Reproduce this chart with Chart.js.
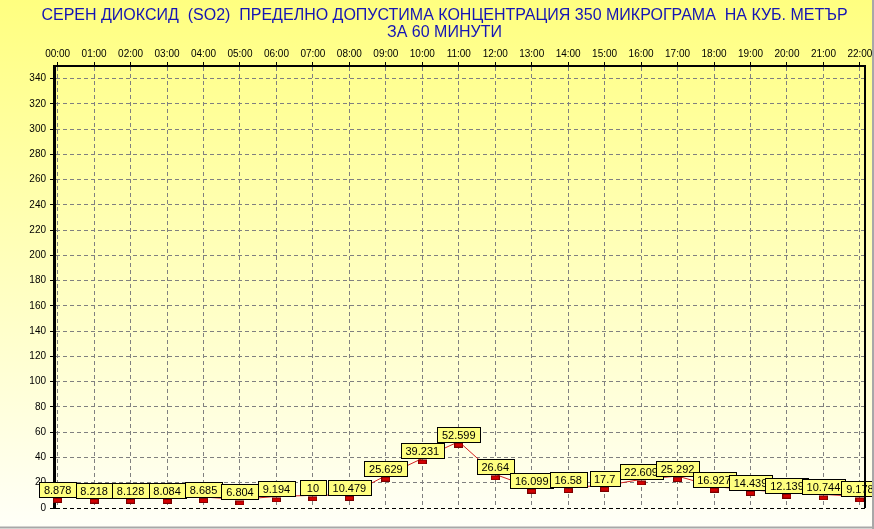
<!DOCTYPE html>
<html>
<head>
<meta charset="utf-8">
<script src="https://cdn.jsdelivr.net/npm/chart.js@4"></script>
<style>
  html, body { margin: 0; padding: 0; overflow: hidden; background: #fff; }
  #wrap { width: 874px; height: 529px; position: relative; }
</style>
</head>
<body>
<div id="wrap"><canvas id="so2Chart"></canvas></div>
<script>
const hours = ["00:00", "01:00", "02:00", "03:00", "04:00", "05:00", "06:00", "07:00", "08:00", "09:00", "10:00", "11:00",
    "12:00", "13:00", "14:00", "15:00", "16:00", "17:00", "18:00", "19:00", "20:00", "21:00", "22:00"];
const so2 = [8.878, 8.218, 8.128, 8.084, 8.685, 6.804, 9.194, 10, 10.479, 25.629, 39.231, 52.599,
    26.64, 16.099, 16.58, 17.7, 22.609, 25.292, 16.927, 14.439, 12.139, 10.744, 9.178];
const yTickValues = [0, 20, 40, 60, 80, 100, 120, 140, 160, 180, 200, 220, 240, 260, 280, 300, 320, 340];
const titleLines = [
    "СЕРЕН ДИОКСИД  (SO2)  ПРЕДЕЛНО ДОПУСТИМА КОНЦЕНТРАЦИЯ 350 МИКРОГРАМА  НА КУБ. МЕТЪР",
    "ЗА 60 МИНУТИ"
];

const FONT = "Arial, 'Liberation Sans', sans-serif";

// small red bar used as the point marker
function makeMarker() {
    const c = document.createElement("canvas");
    c.width = 9;
    c.height = 12;
    const g = c.getContext("2d");
    g.fillStyle = "#7a0000";
    g.fillRect(0, 7, 9, 5);
    g.fillStyle = "#d40000";
    g.fillRect(1, 8, 7, 3);
    return c;
}

const background = {
    id: "background",
    beforeDraw(chart) {
        const ctx = chart.ctx;
        const grad = ctx.createLinearGradient(0, 0, 0, chart.height);
        grad.addColorStop(0, "#ffff80");
        grad.addColorStop(1, "#fffff8");
        ctx.save();
        ctx.fillStyle = grad;
        ctx.fillRect(0, 0, chart.width, chart.height);
        ctx.restore();
    }
};

const frame = {
    id: "frame",
    afterDraw(chart) {
        const ctx = chart.ctx;
        const a = chart.chartArea;
        ctx.save();
        ctx.strokeStyle = "#000";
        ctx.lineWidth = 2;
        ctx.beginPath();
        ctx.moveTo(a.right, a.top);
        ctx.lineTo(a.right, a.bottom);
        ctx.stroke();
        // window edge
        ctx.strokeStyle = "#a8a8a8";
        ctx.beginPath();
        ctx.moveTo(0, chart.height - 1.5);
        ctx.lineTo(chart.width, chart.height - 1.5);
        ctx.moveTo(chart.width - 1, 0);
        ctx.lineTo(chart.width - 1, chart.height);
        ctx.stroke();
        ctx.restore();
    }
};

const pointLabels = {
    id: "pointLabels",
    afterDatasetsDraw(chart) {
        const ctx = chart.ctx;
        const meta = chart.getDatasetMeta(0);
        ctx.save();
        ctx.font = "11px " + FONT;
        ctx.textAlign = "center";
        ctx.textBaseline = "middle";
        meta.data.forEach((pt, i) => {
            const txt = String(so2[i]);
            const w = Math.max(Math.round(ctx.measureText(txt).width) + 9, 26);
            const h = 15;
            const x = Math.round(pt.x - w / 2) + 0.5;
            const y = Math.round(pt.y - h) + 0.5;
            ctx.fillStyle = "#ffff80";
            ctx.fillRect(x, y, w, h);
            ctx.strokeStyle = "#000";
            ctx.lineWidth = 1;
            ctx.strokeRect(x, y, w, h);
            ctx.fillStyle = "#000";
            ctx.fillText(txt, pt.x, y + h / 2 + 0.5);
        });
        ctx.restore();
    }
};

const ctx = document.getElementById("so2Chart").getContext("2d");
new Chart(ctx, {
    type: "line",
    data: {
        datasets: [{
            data: so2.map((v, i) => ({ x: i, y: v })),
            borderColor: "#d42020",
            borderWidth: 1,
            tension: 0,
            pointStyle: makeMarker(),
            pointRadius: 3,
            clip: false
        }]
    },
    options: {
        responsive: true,
        maintainAspectRatio: false,
        animation: false,
        layout: { padding: { left: 24, right: 9, top: 0, bottom: 21 } },
        plugins: {
            legend: { display: false },
            tooltip: { enabled: false },
            title: {
                display: true,
                text: titleLines,
                color: "#1515b5",
                font: { family: FONT, size: 16, weight: "normal", lineHeight: "17px" },
                padding: { top: 7, bottom: 0 }
            }
        },
        scales: {
            x: {
                type: "linear",
                position: "top",
                min: -0.1,
                max: 22.14,
                afterBuildTicks: scale => { scale.ticks = hours.map((h, i) => ({ value: i })); },
                afterFit: scale => { scale.height = 25; scale.paddingLeft = 0; scale.paddingRight = 0; },
                ticks: {
                    callback: v => hours[v],
                    color: "#000",
                    font: { family: FONT, size: 10 },
                    maxRotation: 0,
                    autoSkip: false,
                    padding: 2
                },
                grid: { color: "#808080", lineWidth: 1, tickLength: 4, tickColor: "#000" },
                border: { display: true, color: "#000", width: 2, dash: [4, 3] }
            },
            y: {
                min: 0,
                max: 350,
                afterBuildTicks: scale => { scale.ticks = yTickValues.map(v => ({ value: v })); },
                afterFit: scale => { scale.width = 30; },
                ticks: {
                    color: "#000",
                    font: { family: FONT, size: 10 },
                    padding: 4
                },
                grid: {
                    color: c => (c.tick && c.tick.value === 0 ? "#000" : "#808080"),
                    lineWidth: 1,
                    tickLength: 4,
                    tickColor: "#000"
                },
                border: { display: true, color: "#000", width: 3, dash: [4, 3] }
            }
        }
    },
    plugins: [background, pointLabels, frame]
});
</script>
</body>
</html>
